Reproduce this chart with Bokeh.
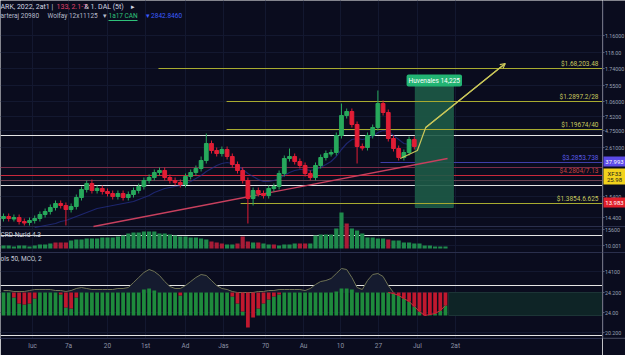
import numpy as np
from bokeh.plotting import figure
from bokeh.layouts import row
from bokeh.models import Range1d, FixedTicker, Label, Span, Arrow, OpenHead, Grid
from bokeh.core.properties import value
from bokeh.embed import file_html
from bokeh.resources import INLINE

# ---------------- data ----------------
open_ = [17, 19, 17, 18, 14, 13, 15, 17, 21, 24,
         28, 32, 30, 26, 29, 38, 46, 52, 45, 47,
         44, 42, 39, 42, 38, 41, 45, 49, 55, 58,
         63, 65, 58, 55, 53, 51, 59, 63, 67, 75,
         92, 85, 82, 86, 79, 71, 65, 55, 37, 45,
         42, 40, 47, 49, 62, 77, 79, 74, 70, 62,
         58, 70, 78, 82, 83, 100, 120, 124, 111, 89,
         88, 100, 108, 132, 123, 97, 87, 78, 83, 96]
close = [19, 17, 18, 14, 13, 15, 17, 21, 24, 28,
         32, 30, 26, 29, 38, 46, 52, 45, 47, 44,
         42, 39, 42, 38, 41, 45, 49, 55, 58, 63,
         65, 58, 55, 53, 51, 59, 63, 67, 75, 92,
         85, 82, 86, 79, 71, 65, 55, 37, 45, 42,
         40, 47, 49, 62, 77, 79, 74, 70, 62, 58,
         70, 78, 82, 83, 100, 120, 124, 111, 89, 88,
         100, 108, 132, 123, 97, 87, 78, 83, 96, 89]
high = [22, 22, 21, 21, 17, 18, 20, 24, 27, 31,
        35, 35, 33, 32, 41, 49, 55, 56, 50, 50,
        47, 45, 45, 45, 44, 48, 52, 58, 61, 66,
        68, 68, 61, 58, 56, 62, 66, 70, 79, 102,
        95, 88, 89, 89, 82, 74, 68, 58, 48, 48,
        45, 50, 52, 65, 80, 87, 82, 77, 73, 65,
        73, 81, 85, 86, 103, 132, 127, 127, 114, 92,
        103, 111, 145, 135, 126, 100, 90, 86, 99, 99]
low = [14, 14, 14, 11, 10, 10, 12, 14, 18, 21,
       25, 27, 10, 23, 26, 35, 43, 42, 42, 41,
       39, 36, 36, 35, 35, 38, 42, 46, 52, 55,
       60, 55, 52, 50, 48, 48, 56, 60, 64, 72,
       82, 79, 79, 76, 68, 62, 52, 12, 30, 39,
       37, 37, 44, 46, 59, 74, 71, 67, 59, 55,
       55, 67, 75, 79, 80, 97, 117, 108, 72, 85,
       85, 97, 105, 120, 94, 84, 75, 75, 80, 86]
ma = [None] * 6 + [8, 9, 10, 11, 12, 14, 15, 17, 19, 21,
                   23, 25, 27, 28, 29, 30, 31, 32, 33, 34,
                   36, 38, 40, 43, 45, 47, 48, 49, 50, 52,
                   54, 57, 60, 64, 67, 70, 72, 73, 72, 70,
                   66, 62, 59, 56, 54, 54, 55, 57, 60, 63,
                   65, 66, 66, 65, 66, 68, 71, 74, 79, 86,
                   92, 96, 97, 96, 97, 99, 103, 105, 104, 100,
                   96, 92, 91, 90]

volume = [3, 3, 2, 3, 3, 2, 3, 4, 4, 5,
          6, 6, 6, 8, 9, 9, 10, 10, 10, 11,
          11, 11, 12, 13, 15, 16, 16, 17, 17, 17,
          15, 15, 14, 13, 12, 12, 11, 11, 10, 9,
          7, 6, 5, 4, 4, 5, 12, 7, 6, 6,
          5, 4, 4, 3, 4, 4, 5, 5, 5, 5,
          13, 14, 14, 14, 20, 36, 25, 20, 18, 15,
          11, 11, 10, 10, 9, 8, 8, 6, 6, 5,
          5, 3, 3, 2, 2, 2]
vol_dir = ("uuuuuuuuuu" "ddduuuuuuu" "uuuuuuuuuu" "uuuuuuuuuu" "ddduudddud"
           "uuduuuuddu" "uuuuuuduuu" "uuuuduuuuu" "uuuuuu")

osc_hist = [23, 23, 18, 12, 11, 12, 17, 23, 23, 23,
            23, 21, 8, 7, 18, 23, 23, 23, 23, 23,
            23, 23, 23, 23, 23, 23, 23, 26, 27, 25,
            23, 23, 23, 23, 20, 23, 23, 23, 23, 23,
            23, 23, 23, 23, 19, 12, 4, -12, -2, 7,
            12, 16, 19, 21, 23, 23, 23, 23, 23, 23,
            23, 23, 23, 23, 24, 27, 27, 26, 23, 23,
            23, 23, 23, 23, 23, 22, 20, 17, 14, 9,
            4, 0, 1, 2, 5, 10]
osc_band = 23
osc_signal = [25, 25, 24, 24, 24, 25, 26, 26, 26, 26,
              25, 25, 24, 25, 27, 28, 27, 26, 26, 26,
              26, 26, 27, 27, 28, 33, 38, 43, 46, 44,
              40, 34, 29, 27, 27, 30, 34, 38, 41, 40,
              35, 30, 27, 26, 24, 23, 23, 23, 23, 24,
              24, 25, 25, 26, 26, 26, 26, 26, 25, 27,
              31, 34, 35, 37, 42, 47, 46, 38, 28, 26,
              35, 41, 42, 39, 30, 23]

# drawn levels / tools (price units)
lvl_vals = [167, 134, 106, 32]
lvl_start = [29.8, 42.9, 42.9, 45.6]
lvl_text = ["$1.68,203.48", "$1.2897.2/28", "$1.19674/40", "$1.3854.6.625"]
hl_vals = [68, 60, 55]
hl_colors = ["#7a2c48", "#c8283c", "#6a4050"]
purple_val = 73
trend_idx = [17.3, 85.4]
trend_val = [9, 77]
proj_idx = [76.3, 79.6, 81.2, 96.5]
proj_val = [77, 85, 108, 172]
tp_zone = dict(left=79.2, right=86.5, top=150, bottom=28)

# price tags on the right scale
tag_vals = [74, 59, 33]
tag_heights = [10, 16, 10]
tag_colors = ["#5b4ae8", "#f2d21c", "#e01e2a"]
tag_lines = [["37.993"], ["XF33", "25.98"], ["13.983"]]
tag_text_colors = ["white", "#1a1a1a", "white"]

ytick_vals = [200, 183, 167, 150, 134, 119, 105, 88, 39, 18, 6, -10, -36, -57, -77, -97]
ytick_text = ["1.16000", "118.00", "1.74000", "7.5500", "1.06000", "7.5200", "4.75000",
              "2.61000", "1.5400", "14.400", "15600", "10.001", "14100", "24.200",
              "24.00", "20.200"]
xtick_vals = [5.6, 12.5, 20, 27.3, 35, 42.3, 50.4, 57.7, 64.8, 72.1, 79.6, 86.9]
xtick_text = ["luc", "7a", "20", "1st", "Ad", "Jas", "70", "Au", "10", "27", "Jul", "2at"]

# ---------------- styling ----------------
BG = "#0a0c1e"
GRID = "#131830"
SEP = "#2a2f4c"
UP = "#27a95c"
DN = "#e11d35"
VUP = "#1f8a4c"
VDN = "#a81c36"
OLIVE = "#a8aa30"
FONT = "Roboto"

p = figure(width=602, height=355, x_range=Range1d(-0.58, 115.2), y_range=Range1d(-103, 235),
           output_backend="svg", toolbar_location=None, y_axis_location=None,
           background_fill_color=BG, border_fill_color=BG, outline_line_color=None,
           min_border_left=0, min_border_top=0, min_border_right=0, min_border_bottom=17)
p.extra_y_ranges = {"vol": Range1d(-90, 248), "osc": Range1d(-23, 315)}

p.xaxis.ticker = FixedTicker(ticks=xtick_vals)
p.xaxis.major_label_overrides = {v: t for v, t in zip(xtick_vals, xtick_text)}
p.xaxis.major_label_text_font = FONT
p.xaxis.major_label_text_font_size = "6.5px"
p.xaxis.major_label_text_color = "#8c92a6"
p.xaxis.major_label_standoff = 3
p.xaxis.major_tick_out = 0
p.xaxis.major_tick_in = 0
p.xaxis.minor_tick_line_color = None
p.xaxis.axis_line_color = SEP
p.xgrid.grid_line_color = GRID
p.add_layout(Grid(dimension=1, ticker=FixedTicker(ticks=ytick_vals), grid_line_color=GRID))

# panel separators
p.segment(x0=[-0.58] * 2, y0=[9, -17], x1=[115.2] * 2, y1=[9, -17], line_color=SEP, line_width=1)

idx = np.arange(len(close))
o = np.array(open_, float)
c = np.array(close, float)
cols = [UP if cc >= oo else DN for oo, cc in zip(o, c)]
top = np.maximum(o, c)
bot = np.minimum(o, c)
bot = np.where(top - bot < 1.5, top - 1.5, bot)

# full width horizontal lines
p.segment(x0=[-0.58] * len(hl_vals), y0=hl_vals, x1=[115.2] * len(hl_vals), y1=hl_vals,
          line_color=hl_colors, line_width=1.2)
p.segment(x0=[72.5], y0=[purple_val], x1=[115.2], y1=[purple_val], line_color="#3e3ea8", line_width=1)

# take profit zone
p.quad(left=[tp_zone["left"]], right=[tp_zone["right"]], top=[tp_zone["top"]], bottom=[tp_zone["bottom"]],
       fill_color="#1d5a46", fill_alpha=0.9, line_color="#1d5a46")

# olive levels
p.segment(x0=lvl_start, y0=lvl_vals, x1=[115.2] * 4, y1=lvl_vals, line_color=OLIVE, line_width=1.2)

# moving average & trendline
p.line(idx, [np.nan if v is None else v for v in ma], line_color="#25308f", line_width=1.2, line_alpha=0.7)
p.line(trend_idx, trend_val, line_color="#c8405e", line_width=1.3)

# candles
p.segment(x0=idx, y0=low, x1=idx, y1=high, line_color=cols, line_width=1)
p.vbar(x=idx, width=0.72, top=top, bottom=bot, fill_color=cols, line_color=cols)

# projection path
p.line(proj_idx, proj_val, line_color="#c9c65a", line_width=1.2)
p.add_layout(Arrow(end=OpenHead(size=5, line_color="#c9c65a", line_width=1.2),
                   x_start=proj_idx[-2], y_start=proj_val[-2], x_end=proj_idx[-1], y_end=proj_val[-1],
                   line_color="#c9c65a", line_width=1.2))

# volume
vidx = np.arange(len(volume))
vcols = [VUP if d == "u" else VDN for d in vol_dir]
p.vbar(x=vidx, width=0.8, top=volume, bottom=0, fill_color=vcols, line_color=None, y_range_name="vol")

# oscillator
h = np.array(osc_hist, float)
oidx = np.arange(len(h))
sig = np.array(osc_signal, float)
sidx = np.arange(len(sig))
p.quad(left=[85.6], right=[115.2], top=[osc_band], bottom=[0], fill_color="#0e2426",
       line_color="#1c3436", y_range_name="osc")
p.varea(x=sidx, y1=np.full(len(sig), osc_band), y2=np.maximum(sig, osc_band),
        fill_color="#151b2f", y_range_name="osc")
p.line(sidx, sig, line_color="#6f7355", line_width=1, y_range_name="osc")
gm = h > 0
p.vbar(x=oidx[gm], width=0.72, top=h[gm], bottom=0, fill_color="#1e8a3c", line_color=None, y_range_name="osc")
rm = h < osc_band
p.vbar(x=oidx[rm], width=0.72, top=osc_band, bottom=h[rm], fill_color="#c0182e", line_color=None,
       y_range_name="osc")
p.line(oidx[74:], h[74:], line_color="#d0283a", line_width=1, y_range_name="osc")


# ---------------- text ----------------
def ix(x_img):
    return (x_img - 3) / 5.2


def py(y_img):
    return 235 - y_img


def lab(x_img, y_img, text, color, size="6.5px", align="left", baseline="middle", **kw):
    p.add_layout(Label(x=ix(x_img), y=py(y_img), text=text, text_color=color, text_font=FONT,
                       text_font_size=size, text_align=align, text_baseline=baseline, **kw))


lab(0, 6, "ARK, 2022, 2at1 |", "#d4d7e2", size="7px")
lab(56, 6, "133, 2.1-7", "#e0406a", size="7px")
lab(84, 6, "& 1. DAL (5t)", "#d4d7e2", size="7px")
lab(130, 6, "▸", "#d4d7e2", size="7px")
lab(0, 15, "arteraj 20980", "#b8bccb")
lab(47, 15, "Wolfay 12x11125", "#b8bccb")
lab(102, 15, "▾", "#b8bccb")
lab(108, 15, "1a17 CAN", "#2fc27a")
p.segment(x0=[ix(108)], y0=[py(20)], x1=[ix(137)], y1=[py(20)], line_color="#2fc27a", line_width=1)
lab(145, 15, "▾ 2842.8460", "#3c5cff")

lab(0, 234, "CRD Nurld 4.3", "#c9ccd8")
lab(0, 258, "ols 50, MCO, 2", "#c9ccd8")

for v, t in zip(lvl_vals, lvl_text):
    p.add_layout(Label(x=ix(598), y=v + 0.5, text=t, text_color="#c8c85e", text_font=FONT,
                       text_font_size="6.5px", text_align="right", text_baseline="bottom"))
p.add_layout(Label(x=ix(598), y=purple_val + 0.5, text="$3.2853.738", text_color="#5a5ae6",
                   text_font=FONT, text_font_size="6.5px", text_align="right", text_baseline="bottom"))
p.add_layout(Label(x=ix(598), y=hl_vals[1] + 0.5, text="$4.2804/7.13", text_color="#c8403e",
                   text_font=FONT, text_font_size="6.5px", text_align="right", text_baseline="bottom"))

p.add_layout(Label(x=(tp_zone["left"] + tp_zone["right"]) / 2, y=py(80), text="Huvenales 14,225",
                   text_color="white", text_font=FONT, text_font_size="6.5px", text_align="center",
                   text_baseline="middle", background_fill_color="#22b473", padding=2, border_radius=2))

# ---------------- right price scale strip ----------------
s = figure(width=23, height=355, x_range=Range1d(0, 23), y_range=p.y_range,
           output_backend="svg", toolbar_location=None, x_axis_location=None, y_axis_location=None,
           background_fill_color=BG, border_fill_color=BG, outline_line_color=None,
           min_border_left=0, min_border_top=0, min_border_right=0, min_border_bottom=17)
s.xgrid.visible = False
s.ygrid.visible = False
s.segment(x0=[0.5], y0=[-103], x1=[0.5], y1=[235], line_color=SEP, line_width=1)
s.segment(x0=[0] * 3, y0=[9, -17, -102.6], x1=[23] * 3, y1=[9, -17, -102.6], line_color=SEP, line_width=1)
s.segment(x0=[0] * len(ytick_vals), y0=ytick_vals, x1=[2] * len(ytick_vals), y1=ytick_vals,
          line_color="#5a6078", line_width=1)
s.text(x=[2.5] * len(ytick_vals), y=ytick_vals, text=ytick_text, text_font=value(FONT),
       text_font_size="5.3px", text_color="#9aa0b4", text_baseline="middle", text_align="left")
s.quad(left=[1] * 3, right=[23] * 3, top=[v + hh / 2 for v, hh in zip(tag_vals, tag_heights)],
       bottom=[v - hh / 2 for v, hh in zip(tag_vals, tag_heights)], fill_color=tag_colors, line_color=None)
tx, ty, tt, tc = [], [], [], []
for v, hh, lines, col in zip(tag_vals, tag_heights, tag_lines, tag_text_colors):
    n = len(lines)
    for k, t in enumerate(lines):
        tx.append(12)
        ty.append(v + (n - 1) * 3.5 - k * 7)
        tt.append(t)
        tc.append(col)
s.text(x=tx, y=ty, text=tt, text_color=tc, text_font=value(FONT), text_font_size="6px",
       text_baseline="middle", text_align="center")

layout = row(p, s, spacing=0)
html = file_html(layout, INLINE, title="chart")
html = html.replace("<body>", '<body style="background-color:#0a0c1e;">', 1)
open("out.html", "w").write(html)
